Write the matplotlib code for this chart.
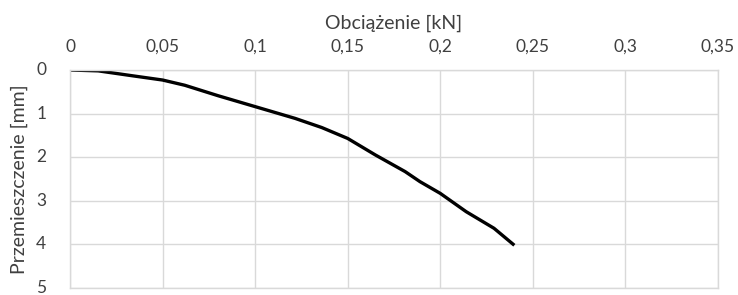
import numpy as np
from matplotlib import pyplot as plt

# load [kN] vs displacement [mm]
obciazenie = [0, 0.0153, 0.0333, 0.05, 0.062, 0.08, 0.1, 0.1216, 0.136, 0.15,
              0.165, 0.181, 0.189, 0.2, 0.214, 0.229, 0.24]
przemieszczenie = [0, 0.02, 0.13, 0.23, 0.35, 0.59, 0.84, 1.11, 1.32, 1.57,
                   1.95, 2.33, 2.56, 2.83, 3.25, 3.63, 4.02]

xticks = [0, 0.05, 0.1, 0.15, 0.2, 0.25, 0.3, 0.35]
xlabels = ["0", "0,05", "0,1", "0,15", "0,2", "0,25", "0,3", "0,35"]
yticks = [0, 1, 2, 3, 4, 5]

plt.rcParams['font.family'] = ['Lato', 'DejaVu Sans']
grid_col = "#d9d9d9"
text_col = "#404040"

fig = plt.figure(figsize=(7.38, 2.95), dpi=100)
ax = fig.add_axes([70/738, 1-288/295, 648/738, 218/295])

ax.plot(obciazenie, przemieszczenie, color="black", lw=2.4,
        solid_capstyle="butt", solid_joinstyle="round")

ax.set_xlim(0, 0.35)
ax.set_ylim(5, 0)
ax.xaxis.tick_top()
ax.xaxis.set_label_position("top")
ax.set_xticks(xticks)
ax.set_xticklabels(xlabels)
ax.set_yticks(yticks)
ax.tick_params(length=0, labelsize=12.5, colors=text_col, pad=11)
ax.tick_params(axis="y", pad=17)
for t in ax.get_yticklabels():
    t.set_verticalalignment("center")

ax.set_xlabel("Obciążenie [kN]", fontsize=14, color=text_col, labelpad=7)
ax.set_ylabel("Przemieszczenie [mm]", fontsize=14, color=text_col, labelpad=6)

ax.grid(True, color=grid_col, lw=1)
for s in ax.spines.values():
    s.set_color(grid_col)
    s.set_linewidth(1)

fig.savefig("out.png", dpi=100)
